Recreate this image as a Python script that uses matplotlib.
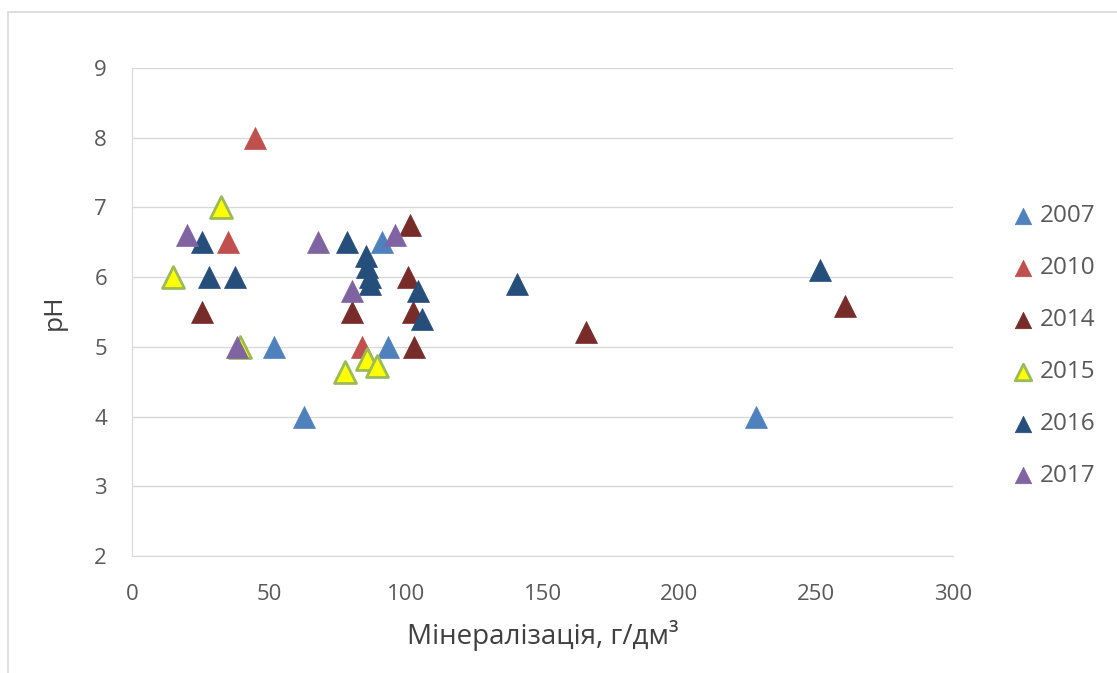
import matplotlib.pyplot as plt
from matplotlib.patches import Rectangle

plt.rcParams['font.family'] = ['Open Sans', 'DejaVu Sans']

years = ['2007', '2010', '2014', '2015', '2016', '2017']

x2007 = [52, 63, 93.5, 91.5, 228]
y2007 = [5.0, 4.0, 5.0, 6.5, 4.0]

x2010 = [45, 35, 84]
y2010 = [8.0, 6.5, 5.0]

x2014 = [25.5, 80.5, 101.5, 101, 102.5, 103, 166, 260.5]
y2014 = [5.5, 5.5, 6.75, 6.0, 5.5, 5.0, 5.22, 5.58]

x2015 = [15, 32.5, 39.5, 78, 86, 89.5]
y2015 = [6.0, 7.0, 5.0, 4.64, 4.82, 4.72]

x2016 = [25.5, 28, 37.5, 78.5, 85.5, 86, 87, 87, 104.5, 106, 140.5, 251.5]
y2016 = [6.5, 6.0, 6.0, 6.5, 6.3, 6.15, 6.0, 5.9, 5.8, 5.4, 5.9, 6.1]

x2017 = [20, 38.5, 68, 80.5, 96]
y2017 = [6.6, 5.0, 6.5, 5.8, 6.6]

series = [
    (x2007, y2007, '#4f81bd', '#4f81bd'),
    (x2010, y2010, '#c0504d', '#c0504d'),
    (x2014, y2014, '#772c2a', '#772c2a'),
    (x2015, y2015, '#ffff00', '#9bbb59'),
    (x2016, y2016, '#254e7b', '#254e7b'),
    (x2017, y2017, '#8064a2', '#8064a2'),
]

fig = plt.figure(figsize=(11.17, 6.73), dpi=100)
ax = fig.add_axes([132 / 1117, 1 - 556 / 673, (953 - 132) / 1117, (556 - 68) / 673])

# chart border
fig.patches.append(Rectangle((8 / 1117, -0.01), 1.1, 1 - 12 / 673 + 0.01,
                             transform=fig.transFigure, fill=False,
                             edgecolor='#d9d9d9', linewidth=1.2))

for (xs, ys, fc, ec), lab in zip(series, years):
    lw = 2.0 if lab == '2015' else 0.5
    ax.scatter(xs, ys, marker='^', s=250, facecolor=fc, edgecolor=ec,
               linewidths=lw, label=lab, zorder=3)

ax.set_xlim(0, 300)
ax.set_ylim(2, 9)
ax.set_xticks(range(0, 301, 50))
ax.set_yticks(range(2, 10))
ax.grid(axis='y', color='#d9d9d9', linewidth=1)
ax.set_axisbelow(True)
for s in ['top', 'right']:
    ax.spines[s].set_visible(False)
for s in ['left', 'bottom']:
    ax.spines[s].set_color('#d9d9d9')
ax.tick_params(length=0, labelsize=16, colors='#595959')
ax.tick_params(axis='x', pad=20)
ax.tick_params(axis='y', pad=18)
ax.set_xlabel('Мінералізація, г/дм³', fontsize=20, color='#404040', labelpad=11)
ax.set_ylabel('pH', fontsize=19, color='#404040', labelpad=20)

ax.legend(loc='center left', bbox_to_anchor=(1008 / 1117, 1 - 346 / 673),
          bbox_transform=fig.transFigure, frameon=False, borderpad=0,
          borderaxespad=0, fontsize=17.5, labelcolor='#595959',
          markerscale=0.75, handletextpad=0.1, labelspacing=1.15,
          handlelength=1.2)

fig.savefig('out.png', dpi=100)
